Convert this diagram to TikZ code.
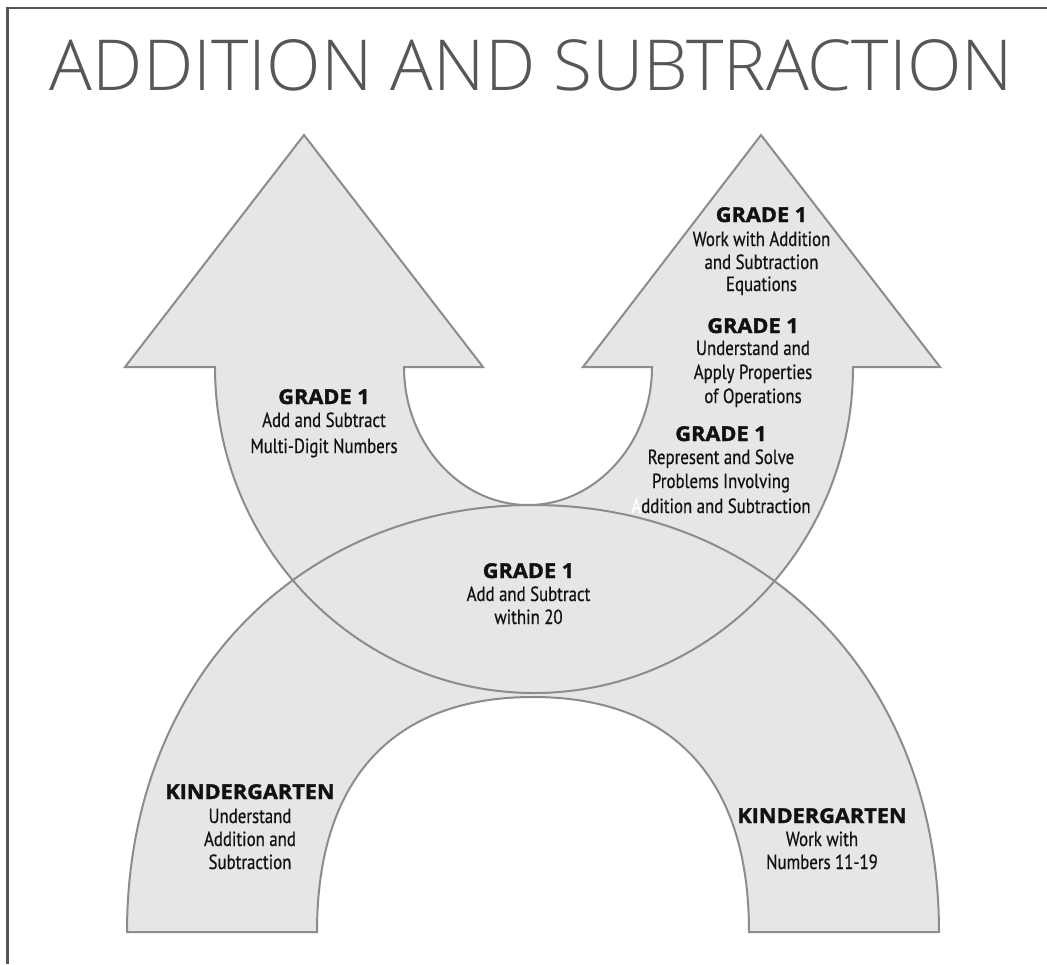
\documentclass[tikz,border=0pt]{standalone}
\usepackage{fontspec}
\setmainfont{Open Sans}
\newfontfamily\titlefont{Open Sans Light}
\newfontfamily\headfont[FakeStretch=1.06, BoldFeatures={FakeBold=1.6}]{Open Sans}
\newfontfamily\bodyfont[FakeStretch=0.82, FakeBold=0.5]{PT Sans}
\definecolor{fillg}{HTML}{E6E6E6}
\definecolor{lineg}{HTML}{8C8C8C}
\definecolor{frameg}{HTML}{555555}
\definecolor{titleg}{HTML}{575757}
\definecolor{inkc}{HTML}{111111}
\tikzset{
  blob/.style={fill=fillg},
  outline/.style={draw=lineg, line width=2pt, line join=miter},
  hd/.style={anchor=base, inner sep=0pt, text=inkc, font=\headfont\bfseries\fontsize{20.5}{24}\selectfont},
  bd/.style={anchor=base, inner sep=0pt, text=inkc, font=\bodyfont\fontsize{20.5}{24}\selectfont},
}
\begin{document}
\begin{tikzpicture}[x=1pt,y=-1pt]
\useasboundingbox (0,0) rectangle (1047,964);
\fill[white] (0,0) rectangle (1047,964);
% fills
\path[blob] (215,367) -- (125,367) -- (304,135) -- (483,367) -- (404,367)
  .. controls (404,443) and (460,505) .. (528,505)
  .. controls (596,505) and (652,443) .. (652,367)
  -- (583,367) -- (761,135) -- (940,367) -- (853,367)
  .. controls (853,547) and (710,693) .. (534,693)
  .. controls (358,693) and (215,547) .. (215,367) -- cycle;
\path[blob] (127,932)
  .. controls (127,682) and (298,505) .. (533,505)
  .. controls (768,505) and (939,682) .. (939,932)
  -- (749,932)
  .. controls (749,779) and (673,697) .. (533,697)
  .. controls (393,697) and (317,779) .. (317,932) -- cycle;
% outlines
\path[outline] (215,367) -- (125,367) -- (304,135) -- (483,367) -- (404,367)
  .. controls (404,443) and (460,505) .. (528,505)
  .. controls (596,505) and (652,443) .. (652,367)
  -- (583,367) -- (761,135) -- (940,367) -- (853,367)
  .. controls (853,547) and (710,693) .. (534,693)
  .. controls (358,693) and (215,547) .. (215,367) -- cycle;
\path[outline] (127,932)
  .. controls (127,682) and (298,505) .. (533,505)
  .. controls (768,505) and (939,682) .. (939,932)
  -- (749,932)
  .. controls (749,779) and (673,697) .. (533,697)
  .. controls (393,697) and (317,779) .. (317,932) -- cycle;
% frame
\draw[frameg, line width=2.5pt] (7.5,964) -- (7.5,8) -- (1047,8);
% title
\node[anchor=base, inner sep=0pt, text=titleg] (title) at (531.5,90.7)
  {\resizebox{963pt}{51pt}{\titlefont\fontsize{70}{84}\selectfont ADDITION AND SUBTRACTION}};
% left arrow
\node[hd] (la0) at (324,404) {GRADE 1};
\node[bd] (la1) at (324,427) {Add and Subtract};
\node[bd] (la2) at (324,453) {Multi-Digit Numbers};
% right arrow top
\node[hd] (ra0) at (761.5,222) {GRADE 1};
\node[bd] (ra1) at (761.5,246) {Work with Addition};
\node[bd] (ra2) at (761.5,269) {and Subtraction};
\node[bd] (ra3) at (761.5,291) {Equations};
% right arrow middle
\node[hd] (rb0) at (753,333) {GRADE 1};
\node[bd] (rb1) at (753,355) {Understand and};
\node[bd] (rb2) at (753,379) {Apply Properties};
\node[bd] (rb3) at (753,403) {of Operations};
% right arrow lower
\node[hd] (rc0) at (721,441) {GRADE 1};
\node[bd] (rc1) at (721,464) {Represent and Solve};
\node[bd] (rc2) at (721,488) {Problems Involving};
\node[bd] (rc3) at (721,513) {{\color{white}A}ddition and Subtraction};
% lens
\node[hd] (lz0) at (528.5,578) {GRADE 1};
\node[bd] (lz1) at (528.5,601) {Add and Subtract};
\node[bd] (lz2) at (528.5,624) {within 20};
% kindergarten left
\node[hd] (kl0) at (250,799) {KINDERGARTEN};
\node[bd] (kl1) at (250,823) {Understand};
\node[bd] (kl2) at (250,846) {Addition and};
\node[bd] (kl3) at (250,869) {Subtraction};
% kindergarten right
\node[hd] (kr0) at (822,823) {KINDERGARTEN};
\node[bd] (kr1) at (822,846) {Work with};
\node[bd] (kr2) at (822,869) {Numbers 11-19};
\end{tikzpicture}
\end{document}
